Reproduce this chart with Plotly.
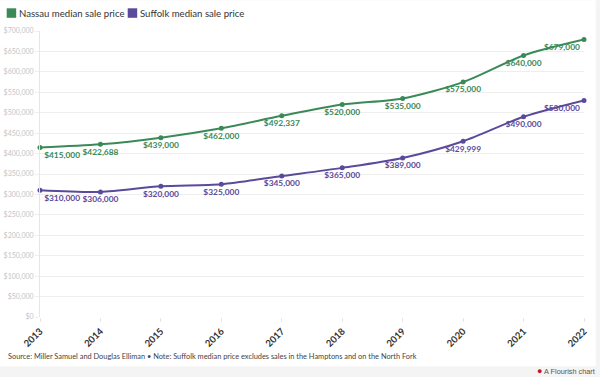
import plotly.graph_objects as go

years = [2013, 2014, 2015, 2016, 2017, 2018, 2019, 2020, 2021, 2022]
nassau = [415000, 422688, 439000, 462000, 492337, 520000, 535000, 575000, 640000, 679000]
suffolk = [310000, 306000, 320000, 325000, 345000, 365000, 389000, 429999, 490000, 530000]
series_names = ["Nassau median sale price", "Suffolk median sale price"]
y_ticks = list(range(0, 700001, 50000))

GREEN = "#3a8a58"
PURPLE = "#5b4a9b"
FONT = "Lato"

W, H = 600, 377
L, R, T, B = 40.3, 15.7, 30.7, 60.3
pw, ph = W - L - R, H - T - B


def px_x(x):
    return (x - L) / pw


def px_y(y):
    return (H - B - y) / ph


def positions(n):
    return ["bottom right"] + ["bottom center"] * (n - 2) + ["bottom left"]


def fmt(v):
    return "${:,}".format(v)


fig = go.Figure()
for name, vals, col in [(series_names[0], nassau, GREEN), (series_names[1], suffolk, PURPLE)]:
    fig.add_trace(go.Scatter(
        x=years, y=vals, mode="lines+markers+text", name=name,
        line=dict(color=col, width=2, shape="spline", smoothing=0.8),
        marker=dict(color=col, size=5),
        text=[fmt(v) for v in vals], textposition=positions(len(vals)),
        textfont=dict(family=FONT, size=8.4, color=col, weight="bold"),
        showlegend=False, cliponaxis=False,
    ))

# manual legend (square swatch + label)
shapes = [dict(type="rect", xref="paper", yref="paper", x0=px_x(0), x1=px_x(596),
               y0=px_y(366), y1=px_y(0), fillcolor="white", line=dict(width=0), layer="below")]
annotations = []
legend_x = [7, 128]
for lx, name, col in zip(legend_x, series_names, [GREEN, PURPLE]):
    shapes.append(dict(type="rect", xref="paper", yref="paper", x0=px_x(lx), x1=px_x(lx + 9.5),
                       y0=px_y(17.5), y1=px_y(8), fillcolor=col, line=dict(width=0)))
    annotations.append(dict(text=name, xref="paper", yref="paper", x=px_x(lx + 10.5), y=px_y(12.8),
                            xanchor="left", yanchor="middle", showarrow=False,
                            font=dict(size=9.6, color="#333", family=FONT)))

annotations += [
    dict(text="Source: Miller Samuel and Douglas Elliman \u2022 Note: Suffolk median price excludes sales in the Hamptons and on the North Fork",
         xref="paper", yref="paper", x=px_x(6), y=px_y(356), xanchor="left", yanchor="middle",
         showarrow=False, font=dict(size=7.4, color="#444", family=FONT)),
    dict(text="<span style='color:#c0182a;font-size:9px'>\u25cf</span> A Flourish chart",
         xref="paper", yref="paper", x=px_x(597), y=px_y(371), xanchor="right", yanchor="middle",
         showarrow=False, font=dict(size=7.3, color="#555", family="Liberation Sans")),
]

fig.update_layout(
    width=W, height=H,
    margin=dict(l=L, r=R, t=T, b=B, autoexpand=False),
    paper_bgcolor="#f4f4f4", plot_bgcolor="rgba(0,0,0,0)",
    font=dict(family=FONT, color="#333"),
    showlegend=False,
    xaxis=dict(range=[2013, 2022], tickmode="array", tickvals=years, ticktext=[str(y) for y in years],
               tickangle=-45, tickfont=dict(size=9.5, color="#333", family=FONT, weight="bold"),
               showgrid=False, zeroline=False, showline=False, ticks="outside", ticklen=4,
               tickcolor="#e6e6e6", automargin=False),
    yaxis=dict(range=[0, 700000], tickmode="array", tickvals=y_ticks,
               ticktext=[fmt(v) for v in y_ticks],
               tickfont=dict(size=7, color="#c4c4c4", family=FONT),
               showgrid=True, gridcolor="#eeeeee", gridwidth=1, zeroline=False,
               showline=True, linecolor="#e6e6e6", ticks="outside", ticklen=4, tickcolor="#eeeeee",
               automargin=False),
    shapes=shapes,
    annotations=annotations,
)

fig.write_html("out.html", config={"displayModeBar": False},
               post_script="document.body.style.margin='0';")
